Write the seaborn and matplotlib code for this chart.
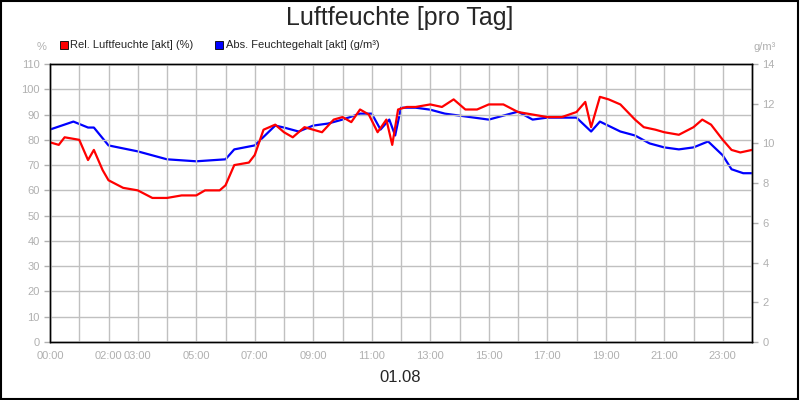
import matplotlib
matplotlib.use("Agg")
import matplotlib.pyplot as plt
import seaborn as sns
import pandas as pd
from matplotlib.patches import Rectangle

rel_t = [0,0.3,0.5,1.0,1.3,1.5,1.8,2.0,2.5,3.0,3.5,4.0,4.5,5.0,5.3,5.8,6.0,6.3,6.8,7.0,7.3,7.7,8.0,8.3,8.7,9.0,9.3,9.7,10.0,10.3,10.6,10.9,11.2,11.5,11.7,11.9,12.2,12.5,13.0,13.4,13.8,14.2,14.6,15.0,15.5,16.0,16.5,17.0,17.5,18.0,18.3,18.5,18.8,19.1,19.5,20.0,20.3,20.7,21.0,21.5,22.0,22.3,22.6,23.0,23.3,23.6,24.0]
rel_v = [79,78,81,80,72,76,68,64,61,60,57,57,58,58,60,60,62,70,71,74,84,86,83,81,85,84,83,88,89,87,92,90,83,88,78,92,93,93,94,93,96,92,92,94,94,91,90,89,89,91,95,85,97,96,94,88,85,84,83,82,85,88,86,80,76,75,76]
abs_t = [0,0.8,1.3,1.5,2.0,3.0,4.0,5.0,6.0,6.3,7.0,7.7,8.0,8.5,9.0,9.5,10.0,10.6,11.0,11.3,11.6,11.8,12.0,12.5,13.0,13.5,14.0,15.0,15.5,16.0,16.5,17.0,18.0,18.5,18.8,19.5,20.0,20.5,21.0,21.5,22.0,22.5,23.0,23.3,23.7,24.0]
abs_v = [10.7,11.1,10.8,10.8,9.9,9.6,9.2,9.1,9.2,9.7,9.9,10.9,10.8,10.6,10.9,11.0,11.2,11.5,11.5,10.7,11.2,10.4,11.8,11.8,11.7,11.5,11.4,11.2,11.4,11.6,11.2,11.3,11.3,10.6,11.1,10.6,10.4,10.0,9.8,9.7,9.8,10.1,9.4,8.7,8.5,8.5]
tick_pos = [0,2,3,5,7,9,11,13,15,17,19,21,23]
tick_lab = ["00:00","02:00","03:00","05:00","07:00","09:00","11:00","13:00","15:00","17:00","19:00","21:00","23:00"]

sns.set_style("white")
plt.rcParams['font.family'] = ['Liberation Sans', 'DejaVu Sans']
fig = plt.figure(figsize=(8, 4), dpi=100)
ax = fig.add_axes([50/800, 58/400, 702/800, 278/400])
ax2 = ax.twinx()
sns.lineplot(x=rel_t, y=rel_v, ax=ax, color="#ff0000", lw=1.6)
sns.lineplot(x=abs_t, y=abs_v, ax=ax2, color="#0000ff", lw=1.6)
ax.set_xlim(0, 24); ax.set_ylim(0, 110); ax2.set_ylim(0, 14)
ax.set_yticks(range(0, 111, 10)); ax2.set_yticks(range(0, 15, 2))
ax.set_xticks(range(0, 25), minor=False)
ax.set_xticks(tick_pos, minor=True)
ax.set_xticklabels([])
ax.xaxis.grid(True, color="#c0c0c0", lw=1); ax.yaxis.grid(True, color="#c0c0c0", lw=1)
for p, l in zip(tick_pos, tick_lab):
    ax.text(p, -3.5, l, ha="center", va="top", fontsize=8, color="#b0b0b0")
gc = "#b0b0b0"
for a in (ax, ax2):
    a.tick_params(axis="y", colors=gc, labelsize=8, length=4, width=1)
    a.tick_params(axis="x", length=0)
    for s in a.spines.values():
        s.set_color("black"); s.set_linewidth(1)
ax.tick_params(axis="x", which="minor", length=0)
ax.set_zorder(ax2.get_zorder() + 1); ax.patch.set_visible(False)
fig.text(0.5, 0.955, "Luftfeuchte [pro Tag]", ha="center", va="center", fontsize=18)
fig.text(0.5, 0.055, "01.08", ha="center", va="center", fontsize=12)
fig.text(42/800, 1 - 47/400, "%", ha="center", va="center", fontsize=8, color=gc)
fig.text(765/800, 1 - 47/400, "g/m³", ha="center", va="center", fontsize=8, color=gc)
fig.patches.append(Rectangle((60/800, 1-49/400), 8/800, 8/400, transform=fig.transFigure, fc="#ff0000", ec="black", lw=0.6))
fig.text(70/800, 1 - 45/400, "Rel. Luftfeuchte [akt] (%)", va="center", fontsize=8)
fig.patches.append(Rectangle((215/800, 1-49/400), 8/800, 8/400, transform=fig.transFigure, fc="#0000ff", ec="black", lw=0.6))
fig.text(226/800, 1 - 45/400, "Abs. Feuchtegehalt [akt] (g/m³)", va="center", fontsize=8)
fig.patches.append(Rectangle((0.001, 0.002), 0.997, 0.996, transform=fig.transFigure, fill=False, ec="black", lw=1.5))
fig.savefig("out.png", dpi=100)
